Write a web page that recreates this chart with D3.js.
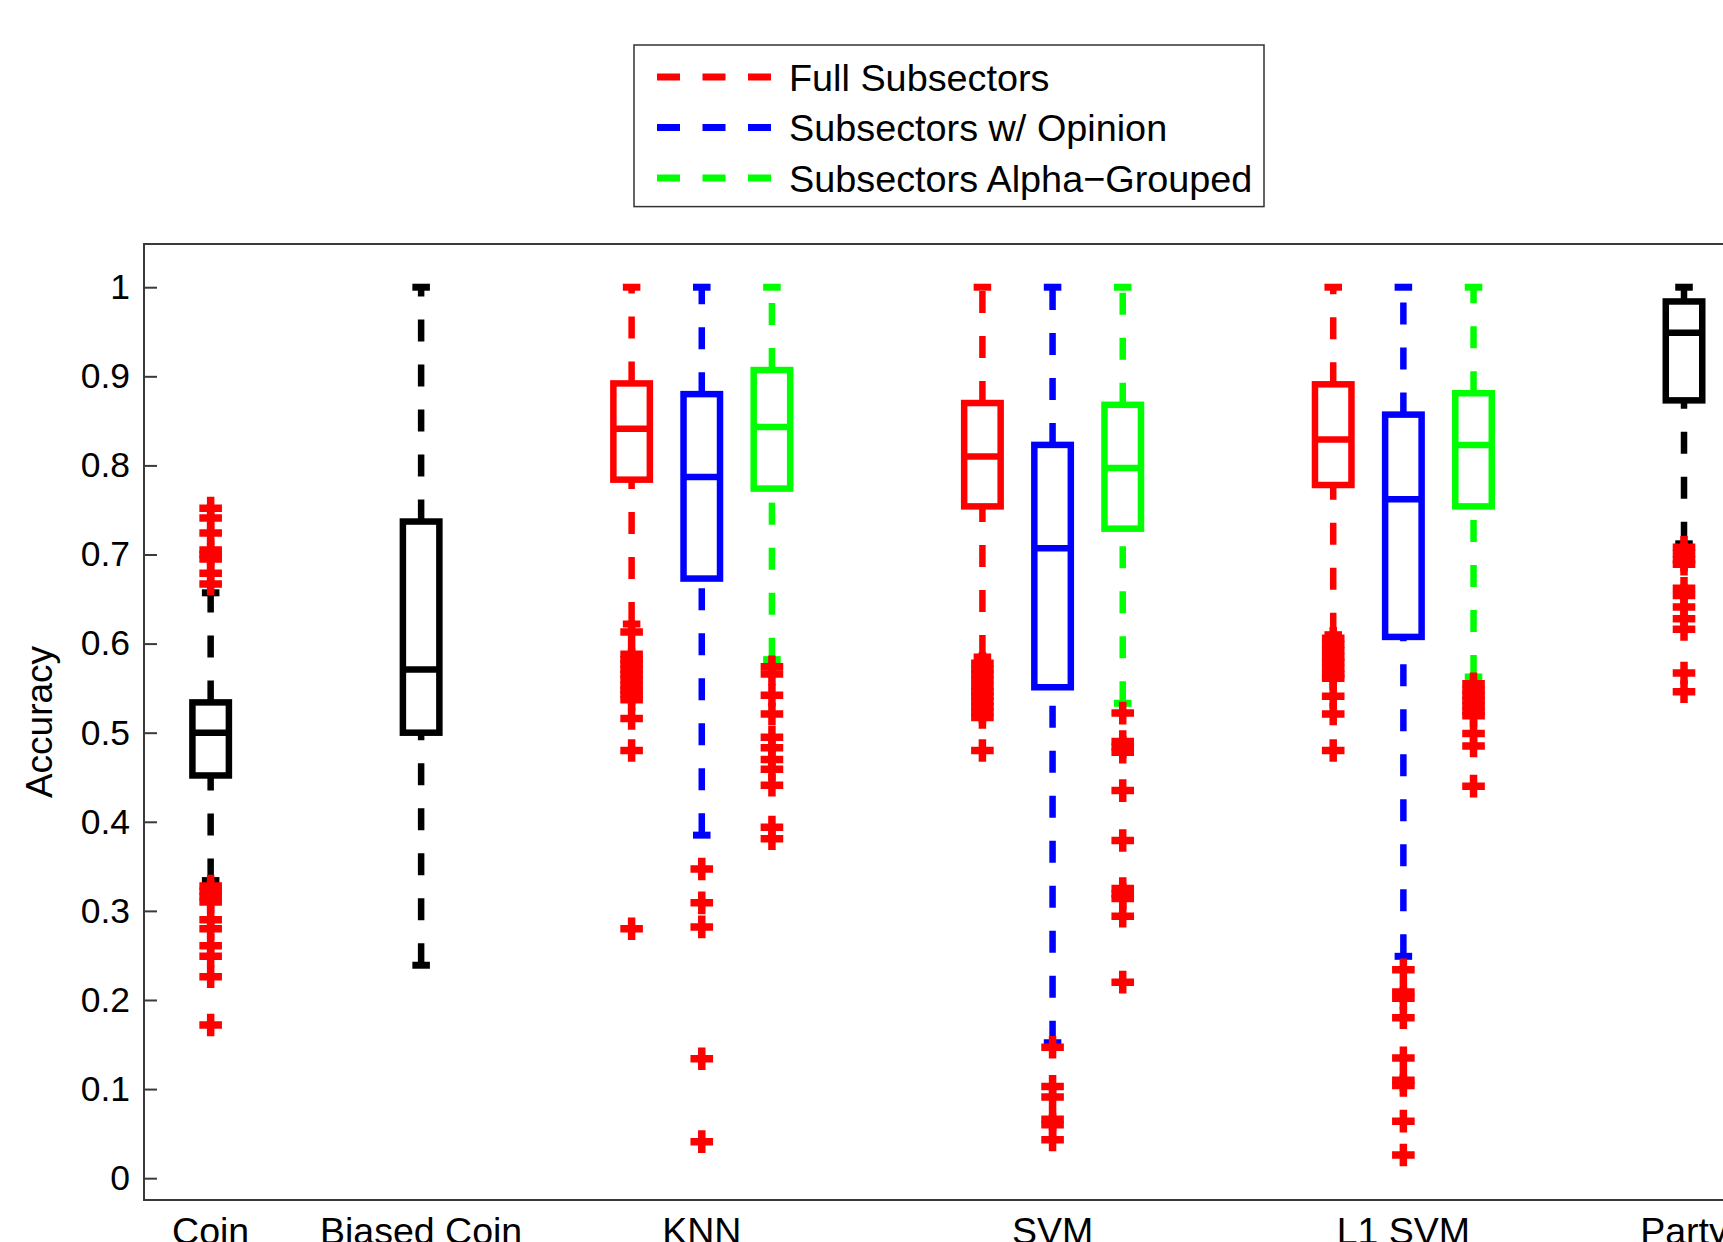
<!DOCTYPE html>
<html>
<head>
<meta charset="utf-8">
<script src="https://cdn.jsdelivr.net/npm/d3@7"></script>
<style>
  html, body { margin: 0; padding: 0; background: #fff; overflow: hidden; }
  svg { display: block; font-family: "Liberation Sans", Arial, Helvetica, sans-serif; }
</style>
</head>
<body>
<div id="chart"></div>
<script>
// ---- data ----
var groups = ["Coin", "Biased Coin", "KNN", "SVM", "L1 SVM", "Party"];
var seriesNames = ["Full Subsectors", "Subsectors w/ Opinion", "Subsectors Alpha\u2212Grouped"];

// one entry per box, left to right
var boxGroup  = [0, 1, 2, 2, 2, 3, 3, 3, 4, 4, 4, 5];
var boxSeries = [-1, -1, 0, 1, 2, 0, 1, 2, 0, 1, 2, -1];   // -1 = baseline box (black)

var whiskerLow  = [0.334, 0.239, 0.622, 0.385, 0.582, 0.585, 0.152, 0.533, 0.610, 0.249, 0.5625, 0.712];
var quart1      = [0.452, 0.500, 0.784, 0.673, 0.774, 0.754, 0.551, 0.729, 0.778, 0.6075, 0.754, 0.873];
var medians     = [0.500, 0.571, 0.841, 0.787, 0.843, 0.810, 0.707, 0.797, 0.829, 0.762, 0.823, 0.949];
var quart3      = [0.534, 0.737, 0.892, 0.880, 0.907, 0.870, 0.823, 0.868, 0.891, 0.857, 0.881, 0.984];
var whiskerHigh = [0.657, 1.000, 1.000, 1.000, 1.000, 1.000, 1.000, 1.000, 1.000, 1.000, 1.000, 1.000];

var outliers = [
  [0.752, 0.741, 0.724, 0.705, 0.700, 0.695, 0.679, 0.667,
   0.328, 0.322, 0.316, 0.310, 0.290, 0.280, 0.261, 0.249, 0.226, 0.172],
  [],
  [0.613, 0.588, 0.582, 0.577, 0.571, 0.566, 0.560, 0.553, 0.548, 0.543, 0.537, 0.516, 0.480, 0.280],
  [0.347, 0.309, 0.282, 0.134, 0.041],
  [0.574, 0.566, 0.542, 0.521, 0.495, 0.483, 0.470, 0.459, 0.441, 0.394, 0.381],
  [0.578, 0.571, 0.566, 0.559, 0.552, 0.546, 0.541, 0.535, 0.529, 0.523, 0.517, 0.480],
  [0.147, 0.103, 0.091, 0.066, 0.060, 0.043],
  [0.522, 0.490, 0.484, 0.478, 0.435, 0.379, 0.325, 0.319, 0.314, 0.294, 0.220],
  [0.606, 0.599, 0.592, 0.585, 0.579, 0.572, 0.566, 0.561, 0.541, 0.521, 0.480],
  [0.234, 0.209, 0.202, 0.180, 0.135, 0.110, 0.104, 0.064, 0.026],
  [0.555, 0.548, 0.542, 0.536, 0.530, 0.524, 0.519, 0.499, 0.485, 0.440],
  [0.708, 0.701, 0.694, 0.689, 0.662, 0.654, 0.641, 0.628, 0.616, 0.567, 0.546]
];

var yTicks = [0, 0.1, 0.2, 0.3, 0.4, 0.5, 0.6, 0.7, 0.8, 0.9, 1];
var yTickLabels = ["0", "0.1", "0.2", "0.3", "0.4", "0.5", "0.6", "0.7", "0.8", "0.9", "1"];

// ---- styles ----
var seriesColors = ["#ff0000", "#0000ff", "#00ff00"];
var baseColor = "#000000";
var outlierColor = "#ff0000";
var fontSize = 37;

var W = 1723, H = 1242;

var svg = d3.select("#chart")
  .append("svg")
  .attr("width", W)
  .attr("height", H);

// slot positions: one slot per box, two empty slots between groups
var slots = [];
var p = 1;
boxGroup.forEach(function(g, i) {
  if (i > 0) p += (g === boxGroup[i - 1]) ? 1 : 3;
  slots.push(p);
});

var plotLeft = 144, plotTop = 244, plotBottom = 1200;
var x = d3.scaleLinear()
  .domain([0.05, 22.95])
  .range([plotLeft, plotLeft + 22.9 * 70.16]);

var y = d3.scaleLinear()
  .domain([-0.0245, 1.0485])
  .range([plotBottom, plotTop]);

var boxHalf = 0.26;   // in slot units
var capHalf = 0.125;

function colorOf(i) {
  return boxSeries[i] < 0 ? baseColor : seriesColors[boxSeries[i]];
}

// ---------------------------//
//      AXES FRAME + TICKS    //
// ---------------------------//
svg.append("rect")
  .attr("x", plotLeft)
  .attr("y", plotTop)
  .attr("width", x.range()[1] - plotLeft)
  .attr("height", plotBottom - plotTop)
  .attr("fill", "none")
  .attr("stroke", "#3a3a3a")
  .attr("stroke-width", 2);

var yAxis = svg.append("g")
  .attr("transform", "translate(" + plotLeft + ",0)")
  .call(d3.axisLeft(y)
    .tickValues(yTicks)
    .tickFormat(function(d, i) { return yTickLabels[i]; })
    .tickSize(-13)
    .tickPadding(14));
yAxis.select(".domain").remove();
yAxis.selectAll(".tick line").attr("stroke", "#3a3a3a").attr("stroke-width", 2);
yAxis.selectAll(".tick text")
  .attr("fill", "#000")
  .style("font-size", "35.5px")
  .style("font-family", "'Liberation Sans', Arial, sans-serif");

// y label
svg.append("text")
  .attr("transform", "translate(52," + 722 + ") rotate(-90)")
  .attr("text-anchor", "middle")
  .style("font-size", fontSize + "px")
  .text("Accuracy");

// group labels (cut by the bottom edge, as in the original)
svg.selectAll(".glabel")
  .data(groups)
  .enter()
  .append("text")
  .attr("class", "glabel")
  .attr("x", function(d, g) {
    var ps = slots.filter(function(s, i) { return boxGroup[i] === g; });
    return x(d3.mean(ps));
  })
  .attr("y", 1244)
  .attr("text-anchor", "middle")
  .style("font-size", "37.5px")
  .text(function(d) { return d; });

// ---------------------------//
//        BOXES               //
// ---------------------------//
var idx = d3.range(slots.length);
var gBox = svg.append("g");

// whiskers (drawn bottom -> top, dashed)
idx.forEach(function(i) {
  var cx = x(slots[i]);
  [[whiskerLow[i], quart1[i]], [quart3[i], whiskerHigh[i]]].forEach(function(seg) {
    gBox.append("line")
      .attr("x1", cx).attr("x2", cx)
      .attr("y1", y(seg[0])).attr("y2", y(seg[1]))
      .attr("stroke", colorOf(i))
      .attr("stroke-width", 6.5)
      .attr("stroke-dasharray", "22,23");
  });
});

// whisker caps
idx.forEach(function(i) {
  [whiskerLow[i], whiskerHigh[i]].forEach(function(v) {
    gBox.append("line")
      .attr("x1", x(slots[i] - capHalf)).attr("x2", x(slots[i] + capHalf))
      .attr("y1", y(v)).attr("y2", y(v))
      .attr("stroke", colorOf(i))
      .attr("stroke-width", 7);
  });
});

// boxes
gBox.selectAll(".box")
  .data(idx)
  .enter()
  .append("rect")
  .attr("class", "box")
  .attr("x", function(i) { return x(slots[i] - boxHalf); })
  .attr("width", function(i) { return x(slots[i] + boxHalf) - x(slots[i] - boxHalf); })
  .attr("y", function(i) { return y(quart3[i]); })
  .attr("height", function(i) { return y(quart1[i]) - y(quart3[i]); })
  .attr("fill", "none")
  .attr("stroke", function(i) { return colorOf(i); })
  .attr("stroke-width", 6.5);

// medians
gBox.selectAll(".med")
  .data(idx)
  .enter()
  .append("line")
  .attr("class", "med")
  .attr("x1", function(i) { return x(slots[i] - boxHalf); })
  .attr("x2", function(i) { return x(slots[i] + boxHalf); })
  .attr("y1", function(i) { return y(medians[i]); })
  .attr("y2", function(i) { return y(medians[i]); })
  .attr("stroke", function(i) { return colorOf(i); })
  .attr("stroke-width", 6.5);

// outliers as red plus signs
var pts = [];
idx.forEach(function(i) {
  outliers[i].forEach(function(v) { pts.push({ s: slots[i], v: v }); });
});
var arm = 11.3;
gBox.selectAll(".out")
  .data(pts)
  .enter()
  .append("path")
  .attr("class", "out")
  .attr("transform", function(d) { return "translate(" + x(d.s) + "," + y(d.v) + ")"; })
  .attr("d", "M" + (-arm) + ",0H" + arm + "M0," + (-arm) + "V" + arm)
  .attr("stroke", outlierColor)
  .attr("stroke-width", 7.5)
  .attr("fill", "none");

// ---------------------------//
//        LEGEND              //
// ---------------------------//
var leg = svg.append("g");
leg.append("rect")
  .attr("x", 634).attr("y", 45)
  .attr("width", 630).attr("height", 161.6)
  .attr("fill", "#fff")
  .attr("stroke", "#333")
  .attr("stroke-width", 1.5);

var rowY = [77, 127.5, 178];
seriesNames.forEach(function(name, k) {
  leg.append("line")
    .attr("x1", 657).attr("x2", 771)
    .attr("y1", rowY[k]).attr("y2", rowY[k])
    .attr("stroke", seriesColors[k])
    .attr("stroke-width", 7)
    .attr("stroke-dasharray", "23,22.5");
  leg.append("text")
    .attr("x", 789)
    .attr("y", rowY[k] + 13.5)
    .style("font-size", "37.8px")
    .text(name);
});
</script>
</body>
</html>
